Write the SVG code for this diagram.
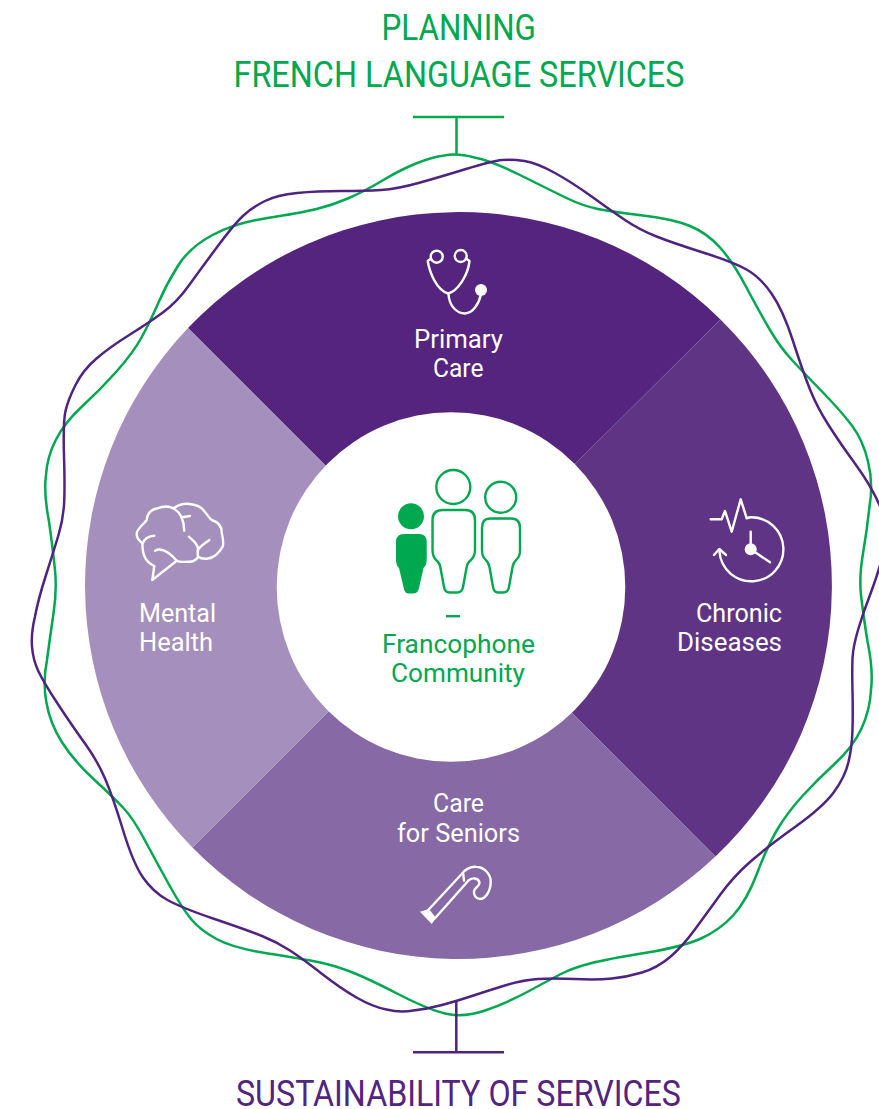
<svg xmlns="http://www.w3.org/2000/svg" width="879" height="1109" viewBox="0 0 879 1109">
<style>
text{font-family:"Roboto","Liberation Sans",sans-serif}
.t{font-size:36.5px;text-anchor:start}
.l{font-size:25.5px;fill:#fff}
.g{fill:#00a84f}
.p{fill:#53247f}
.w{fill:none;stroke:#fff;stroke-width:2.4;stroke-linecap:round;stroke-linejoin:round}
.wf{fill:#fff}
.go{fill:none;stroke:#00a84f;stroke-width:2.4;stroke-linejoin:round}
.c{fill:none;stroke-width:2.5}
</style>
<rect width="879" height="1109" fill="#fff"/>
<g id="segment-primary-care">
<path d="M188,328A373.4,373.4 0 0 1 720.5,319.5L576,463L451,588L325,465Z" fill="#55247e"/>
</g>
<g id="segment-chronic-diseases">
<path d="M720.5,319.5A373.4,373.4 0 0 1 715.4,856.5L572,713L451,588L576,463Z" fill="#5f3485"/>
</g>
<g id="segment-care-for-seniors">
<path d="M715.4,856.5A373.4,373.4 0 0 1 192.4,847.5L328,712L451,588L572,713Z" fill="#8769a6"/>
</g>
<g id="segment-mental-health">
<path d="M192.4,847.5A373.4,373.4 0 0 1 188,328L325,465L451,588L328,712Z" fill="#a590bd"/>
</g>
<g id="center-francophone-community">
<ellipse cx="451" cy="587" rx="174.3" ry="174.8" fill="#fff"/>
<circle class="g" cx="411" cy="516.3" r="13"/>
<path class="g" d="M404,534H419Q426.7,534 426.7,542V560Q426.7,565 423.5,568L419,588Q418,593.5 413,593.5H409Q404.5,593.5 403.7,588L399,568Q396,565 396,560V542Q396,534 404,534Z"/>
<circle class="go" cx="453.3" cy="487" r="17"/>
<path class="go" d="M443,510H465Q475,510 475,520V550Q475,556 471,560Q467,563 466.5,568L463,587Q462,592.5 457,592.5H449.5Q445,592.5 444,587L440.5,568Q440,563 436,560Q432.5,556 432.5,550V520Q432.5,510 443,510Z"/>
<circle class="go" cx="500.7" cy="497.3" r="15.5"/>
<path class="go" d="M490,518.5H511Q520,518.5 520,528V550Q520,556 517,559Q513,563 512.5,567L509,587Q508,592.5 503.5,592.5H498Q494,592.5 493,587L489.5,567Q489,563 485,559Q482,556 482,550V528Q482,518.5 490,518.5Z"/>
<rect class="g" x="446" y="615" width="14" height="2.4"/>
<text class="l" style="fill:#00a84f" x="382" y="653" textLength="153" lengthAdjust="spacingAndGlyphs">Francophone</text>
<text class="l" style="fill:#00a84f" x="391" y="682" textLength="134" lengthAdjust="spacingAndGlyphs">Community</text>
</g>
<g id="label-primary-care">
<path class="w" d="M431,258.5L427.7,261C430,274 437,290 448,293.5C458,291 468,275 469.5,261L466,258.5"/>
<circle class="w" cx="436.7" cy="256.7" r="6"/><circle class="w" cx="460.7" cy="256" r="6"/>
<path class="w" d="M448.5,294C449,306 457,313.5 465,313.5C473,313 479,304 481,294"/>
<circle class="wf" cx="481" cy="290" r="6"/>
<text class="l" x="414" y="348" textLength="89" lengthAdjust="spacingAndGlyphs">Primary</text>
<text class="l" x="433" y="377" textLength="50.5" lengthAdjust="spacingAndGlyphs">Care</text>
</g>
<g id="label-chronic-diseases">
<path class="w" d="M710.7,519.3H721.7L725,511L731.7,531.7L740.7,499.3L746.7,518.3Q748,517.7 750.7,517.3A32,32 0 1 1 719.5,552"/>
<path class="w" d="M714,555L719.3,549L726,555"/>
<circle class="wf" cx="750.7" cy="549.3" r="6"/>
<path class="w" d="M750.7,549.3V531.7M750.7,549.3L770,562.3"/>
<text class="l" x="696" y="622" textLength="86" lengthAdjust="spacingAndGlyphs">Chronic</text>
<text class="l" x="677" y="651" textLength="105" lengthAdjust="spacingAndGlyphs">Diseases</text>
</g>
<g id="label-care-for-seniors">
<path class="wf" d="M420,911.7L429,909L436,918L431.7,924Z"/>
<path class="w" d="M428.3,910L461.7,874C466,868.5 471,866.5 476,866.8C484,867 491,874 490.7,882C490.5,892 485,899 480,899C476,899 473.5,895 474,891.5C475,887 480,886 479.5,882.5C478.5,878 472,877 468.3,880.7L435,918.3M463.3,874.3L464,880.7"/>
<text class="l" x="433" y="812" textLength="51" lengthAdjust="spacingAndGlyphs">Care</text>
<text class="l" x="397" y="842" textLength="123" lengthAdjust="spacingAndGlyphs">for Seniors</text>
</g>
<g id="label-mental-health">
<path class="w" d="M176.7,560.7L152.3,580L154.3,566C147,563 142,556 142.5,543.3C138,540 136,536 137,532C139,527 144,524 146.7,520C147,513 152,509 157,508.5C163,506 169,506 173.3,508.3C178,505 184,503 190,504C197,505 201,507 203.3,510C207,514 209,518 211.7,520C218,522 222,526 221.7,533C223,538 224,542 222.7,546.7C219,553 214,558 208,558.5C204,559 200,558 198.3,556.7C196,560 192,562 188.3,561.7C183,562 179,562 176.7,560.7Z"/>
<path class="w" d="M173.3,508.3C180,512 184,520 184.3,530.7M181.7,517.3L190,516M189,536.7C193,541 198,544 198,549C198,552 197,555 198.3,556.7M209.3,540C204,544 199,547 197.5,551M142.7,543C145,538 149,536 154.3,535.7M155,550.7C162,547 170,553 176.7,560.7"/>
<text class="l" x="139" y="622" textLength="77" lengthAdjust="spacingAndGlyphs">Mental</text>
<text class="l" x="139" y="651" textLength="74" lengthAdjust="spacingAndGlyphs">Health</text>
</g>
<g id="connectors">
<path class="c" stroke="#00a84f" d="M444.5,155.5Q457,153 474.5,157.5Q492,161 521,175.5Q550,190 566.5,198Q583,206 598,209Q613,212 643,215.5Q673,219 690,226Q707,233 720,247.5Q733,262 746.5,287.5Q760,313 770,330Q780,347 791.5,359.5Q803,372 821.5,391Q840,410 851.5,425Q863,440 868,461.5Q873.5,483 869.5,506.5Q867,530 863,553.5Q859,577 861,595Q863,613 867.5,641.5Q873.5,670 871,690Q870,710 861.5,728.5Q853,747 835,763.5Q817,780 802,796.5Q787,813 777,830Q767,847 757,873.5Q747,900 733.5,915Q720,930 701,938.5Q682,947 644.5,953Q607,959 590,963.5Q573,968 563,973Q553,978 530,990.5Q507,1003 485,1010.5Q463,1018 445,1013.5Q427,1009 397,993.5Q367,978 350,971.5Q333,965 318,962Q303,959 268,953.5Q233,948 216.5,939Q200,930 191,919Q182,908 169.5,885.5Q157,863 145,840.5Q133,818 123,807.5Q113,797 93,778.5Q73,760 61.5,741.5Q50,723 46.5,703Q42.5,683 47,660Q50,637 53.5,613.5Q57,590 55,570Q53,550 49,521.5Q43.5,493 46,475Q47,457 56,439.5Q65,422 82.5,406Q100,390 116.5,371.5Q133,353 141.5,337.5Q150,322 158.5,302.5Q167,283 178.5,265Q190,247 212.5,235Q235,223 267.5,218Q300,213 316.5,209Q333,205 349,198Q365,191 382.5,180.5Q400,170 416,163.5Q432,157 444.5,155.5Z"/>
<path class="c" stroke="#4f2480" d="M502,160Q512,159 524.5,161Q537,163 555,173Q573,183 593,197.5Q613,212 626.5,221Q640,230 656.5,236.5Q673,243 703,252.5Q733,262 746.5,269.5Q760,277 771.5,293.5Q783,310 793,341Q803,372 810,389.5Q817,407 828.5,425Q840,443 856,465Q872,487 881,508.5Q890,530 883.5,553.5Q877,577 870,595Q863,613 858,630Q853,647 852.5,658.5Q852,670 852.5,691.5Q853,713 852.5,730Q852,747 848.5,762Q845,777 834,792Q823,807 795,827Q767,847 750,862Q733,877 720,895Q707,913 694.5,930Q682,947 669.5,957.5Q657,968 642,972.5Q627,977 612,978.5Q597,980 575,979Q553,978 538,979Q523,980 506.5,985Q490,990 473.5,995.5Q457,1001 442,1005Q427,1009 413.5,1010.5Q400,1013 386.5,1009.5Q373,1007 356.5,997.5Q340,988 321.5,973.5Q303,959 290,950.5Q277,942 262,936Q247,930 214.5,919Q182,908 167.5,900Q153,892 143,877.5Q133,863 123,830Q113,797 105,778.5Q97,760 85,743.5Q73,727 58.5,705Q44,683 38.5,671.5Q33,660 32,646.5Q31,633 35,616.5Q38,600 46,575Q54,550 58.5,535Q63,520 64,505Q65,490 64,456Q63,422 65.5,411Q68,400 75.5,385Q83,370 96.5,358.5Q110,347 130,334.5Q150,322 163.5,312Q177,302 188.5,286Q200,270 217.5,246.5Q235,223 244,215Q253,207 265,201Q277,195 297,193Q317,191 341,191Q365,191 381,190Q397,189 418.5,183Q440,177 466,169Q492,161 502,160Z"/>
<path class="c" stroke="#00a84f" d="M413,117H504M456.5,117V154"/>
<path class="c" stroke="#4f2480" d="M413,1052.3H504M456.3,1001V1052.3"/>
</g>
<g id="title-top">
<text class="t g" x="381.5" y="39.5" textLength="154.5" lengthAdjust="spacingAndGlyphs">PLANNING</text>
<text class="t g" x="233.5" y="86.8" textLength="451" lengthAdjust="spacingAndGlyphs">FRENCH LANGUAGE SERVICES</text>
</g>
<g id="title-bottom">
<text class="t p" x="236" y="1106" textLength="445" lengthAdjust="spacingAndGlyphs">SUSTAINABILITY OF SERVICES</text>
</g>
</svg>
